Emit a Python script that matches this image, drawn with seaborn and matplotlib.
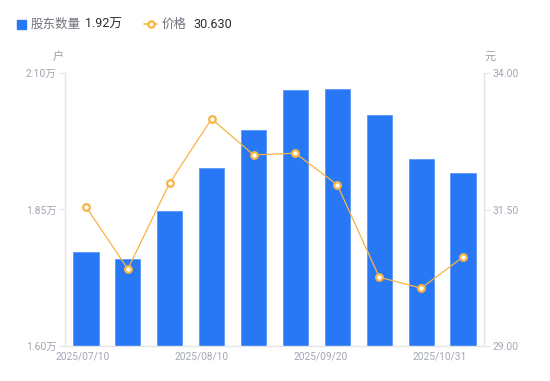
import numpy as np
import pandas as pd
import matplotlib
matplotlib.use('Agg')
import matplotlib.pyplot as plt
from matplotlib.lines import Line2D
from matplotlib.patches import Rectangle
import seaborn as sns

# data (holders in 万户, price in 元)
dates = ['2025/07/10', '2025/07/20', '2025/07/31', '2025/08/10', '2025/08/20',
         '2025/08/31', '2025/09/20', '2025/09/30', '2025/10/20', '2025/10/31']
holders = [1.772, 1.759, 1.847, 1.926, 1.996, 2.069, 2.071, 2.023, 1.942, 1.917]
price = [31.55, 30.41, 31.99, 33.16, 32.50, 32.53, 31.95, 30.26, 30.06, 30.63]
tick_dates = ['2025/07/10', '2025/08/10', '2025/09/20', '2025/10/31']

bar_color = '#2878f5'
line_color = '#f7b443'
tick_color = '#a3a7b3'
axis_color = '#e3e5ea'

sns.set_theme(style='white')
plt.rcParams['font.family'] = ['Roboto', 'Noto Sans CJK SC', 'DejaVu Sans']

df = pd.DataFrame({'date': dates, 'holders': holders, 'price': price})

fig = plt.figure(figsize=(5.5, 3.81), dpi=100)
ax = fig.add_axes([65 / 550, 35 / 381, 419 / 550, 273 / 381])

sns.barplot(data=df, x='date', y='holders', color=bar_color, width=0.6,
            saturation=1, edgecolor='#5a98f7', linewidth=0.6, ax=ax)
ax.set_ylim(1.60, 2.10)
ax.set_xlim(-0.5, len(dates) - 0.5)
ax.set_yticks([1.60, 1.85, 2.10])
ax.set_yticklabels([f'{v:.2f}万' for v in [1.60, 1.85, 2.10]])

ax2 = ax.twinx()
sns.lineplot(x=np.arange(len(dates)), y=df['price'], color=line_color,
             linewidth=0.9, marker='o', markersize=4.8, markerfacecolor='white',
             markeredgecolor=line_color, markeredgewidth=1.6, ax=ax2)
ax2.set_ylim(29, 34)
ax2.set_yticks([29, 31.5, 34])
ax2.set_yticklabels([f'{v:.2f}' for v in [29, 31.5, 34]])
ax2.set_xlim(-0.5, len(dates) - 0.5)

# x labels spread evenly like the original
ax.set_xticks(np.linspace(-0.07, 8.45, len(tick_dates)))
ax.set_xticklabels(tick_dates)
ax.set_xlabel('')
ax.set_ylabel('')
ax2.set_ylabel('')

for a in (ax, ax2):
    for s in a.spines.values():
        s.set_visible(False)
    a.grid(False)
ax.spines['left'].set_visible(True)
ax.spines['bottom'].set_visible(True)
ax2.spines['right'].set_visible(True)
for s in (ax.spines['left'], ax.spines['bottom'], ax2.spines['right']):
    s.set_color(axis_color)
    s.set_linewidth(1)

ax.tick_params(axis='x', length=0, pad=4, labelsize=7.3, colors=tick_color)
ax.tick_params(axis='y', length=4, width=0.8, color=axis_color, pad=2,
               labelsize=7.5, labelcolor=tick_color, left=True)
ax2.tick_params(axis='y', length=4, width=0.8, color=axis_color, pad=2,
                labelsize=7.5, labelcolor=tick_color, right=True)
ax2.set_zorder(ax.get_zorder() + 1)
ax2.patch.set_visible(False)

# unit labels
fig.text(58 / 550, 1 - 57 / 381, '户', fontsize=8, color='#9a9ea8', ha='center', va='center')
fig.text(490 / 550, 1 - 57 / 381, '元', fontsize=8, color='#9a9ea8', ha='center', va='center')

# legend header
ly = 1 - 24 / 381
fig.patches.append(Rectangle((17 / 550, 1 - 28.5 / 381), 8.5 / 550, 8.5 / 381,
                             transform=fig.transFigure, color=bar_color))
fig.text(31 / 550, ly, '股东数量', fontsize=9, color='#70737c', va='center')
fig.text(85 / 550, ly, f'{holders[-1]:.2f}万', fontsize=9, color='#2b2d33', va='center')
fig.lines.append(Line2D([144 / 550, 157 / 550], [ly, ly], transform=fig.transFigure,
                        color=line_color, linewidth=1.2))
fig.lines.append(Line2D([150.5 / 550], [ly], transform=fig.transFigure, color=line_color,
                        marker='o', markersize=4.5, markerfacecolor='white',
                        markeredgewidth=1.6, linestyle='none'))
fig.text(162 / 550, ly, '价格', fontsize=9, color='#70737c', va='center')
fig.text(193 / 550, ly, f'{price[-1]:.3f}', fontsize=9, color='#2b2d33', va='center')

fig.savefig('out.png', dpi=100)
